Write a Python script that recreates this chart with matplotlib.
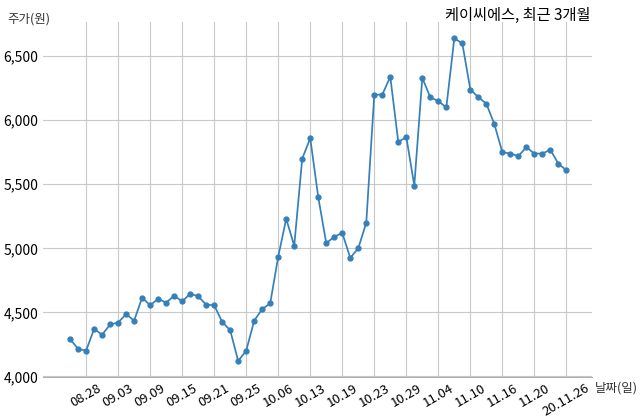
import matplotlib
matplotlib.use("Agg")
import matplotlib.pyplot as plt
import matplotlib.ticker as mticker
import pandas as pd

plt.rcParams['font.family'] = ['Noto Sans CJK KR', 'DejaVu Sans']

# trading days, last 3 months
dates = pd.to_datetime([
    "2020-08-26", "2020-08-27", "2020-08-28", "2020-08-31", "2020-09-01", "2020-09-02", "2020-09-03",
    "2020-09-04", "2020-09-07", "2020-09-08", "2020-09-09", "2020-09-10", "2020-09-11", "2020-09-14",
    "2020-09-15", "2020-09-16", "2020-09-17", "2020-09-18", "2020-09-21", "2020-09-22", "2020-09-23",
    "2020-09-24", "2020-09-25", "2020-09-28", "2020-09-29", "2020-10-05", "2020-10-06", "2020-10-07",
    "2020-10-08", "2020-10-12", "2020-10-13", "2020-10-14", "2020-10-15", "2020-10-16", "2020-10-19",
    "2020-10-20", "2020-10-21", "2020-10-22", "2020-10-23", "2020-10-26", "2020-10-27", "2020-10-28",
    "2020-10-29", "2020-10-30", "2020-11-02", "2020-11-03", "2020-11-04", "2020-11-05", "2020-11-06",
    "2020-11-09", "2020-11-10", "2020-11-11", "2020-11-12", "2020-11-13", "2020-11-16", "2020-11-17",
    "2020-11-18", "2020-11-19", "2020-11-20", "2020-11-23", "2020-11-24", "2020-11-25", "2020-11-26",
])

close = [
    4290, 4215, 4200, 4370, 4325, 4405, 4420, 4485, 4435, 4615, 4555, 4605, 4575, 4630,
    4585, 4645, 4625, 4560, 4555, 4425, 4360, 4120, 4200, 4435, 4525, 4570, 4935, 5230,
    5020, 5700, 5860, 5400, 5040, 5090, 5120, 4925, 5000, 5200, 6200, 6200, 6340, 5830,
    5870, 5490, 6330, 6180, 6150, 6100, 6640, 6600, 6240, 6180, 6130, 5970, 5750, 5740,
    5720, 5790, 5740, 5740, 5770, 5660, 5610,
]

x = list(range(len(close)))
tick_idx = list(range(2, len(close), 4))
tick_labels = [dates[i].strftime("%m.%d") for i in tick_idx]
tick_labels[-1] = dates[tick_idx[-1]].strftime("%y.%m.%d")

fig = plt.figure(figsize=(6.4, 4.19), dpi=100)
ax = fig.add_axes([0.067, 0.1, 0.858, 0.847])

ax.plot(x, close, color="#3580b8", linewidth=1.25, marker="o", markersize=3.5)

ax.set_xlim(-3.4, len(close) - 1 + 3.2)
ax.set_xticks(tick_idx)
ax.set_xticklabels(tick_labels, rotation=30, fontsize=9.5)
ax.yaxis.set_major_formatter(mticker.FuncFormatter(lambda v, p: f"{int(v):,}"))
ax.set_yticks([4000, 4500, 5000, 5500, 6000, 6500])
ax.tick_params(axis="y", labelsize=10)
ax.tick_params(length=0)

ax.grid(True, color="#c8c8c8", linewidth=0.8)
ax.set_axisbelow(True)
for s in ["top", "right", "left"]:
    ax.spines[s].set_visible(False)
ax.spines["bottom"].set_color("#b0b0b0")

fig.text(0.012, 0.955, "주가(원)", fontsize=9, color="#333333", va="center")
fig.text(0.923, 0.962, "케이씨에스, 최근 3개월", fontsize=11, ha="right", va="center")
fig.text(0.93, 0.075, "날짜(일)", fontsize=9, color="#333333", va="center")

fig.savefig("out.png", dpi=100)
